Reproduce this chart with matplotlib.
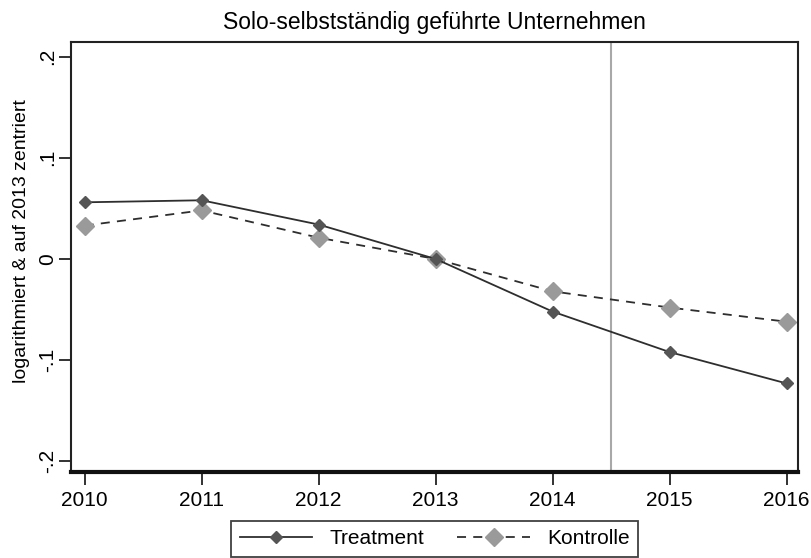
import numpy as np
import matplotlib
matplotlib.use("Agg")
import matplotlib.pyplot as plt

# Daten
jahre = [2010, 2011, 2012, 2013, 2014, 2015, 2016]
treatment = [0.056, 0.058, 0.034, 0.0, -0.052, -0.092, -0.123]
kontrolle = [0.033, 0.048, 0.021, 0.0, -0.032, -0.048, -0.062]
y_ticks = [-0.2, -0.1, 0, 0.1, 0.2]
y_labels = ["-.2", "-.1", "0", ".1", ".2"]
x_linie = 2014.5

plt.rcParams['font.family'] = ['Liberation Sans', 'DejaVu Sans']

fig = plt.figure(figsize=(8.12, 5.58), dpi=100)
ax = fig.add_axes([71/812, 1-472/558, (798-71)/812, (472-42)/558])

ax.axvline(x_linie, color='#a8a8a8', linewidth=1.5, zorder=1)
ax.plot(jahre, treatment, color='#2e2e2e', linewidth=1.3, marker='D',
        markersize=6, markerfacecolor='#555555', markeredgecolor='#555555',
        label='Treatment', zorder=3)
ax.plot(jahre, kontrolle, color='#2e2e2e', linewidth=1.3, linestyle=(0, (5, 4)),
        marker='D', markersize=9.5, markerfacecolor='#9a9a9a',
        markeredgecolor='#9a9a9a', label='Kontrolle', zorder=2)

ax.set_xlim(2009.883, 2016.097)
ax.set_ylim(-0.2105, 0.2144)
ax.set_xticks(jahre)
ax.set_xticklabels([str(j) for j in jahre], fontsize=15)
ax.set_yticks(y_ticks)
ax.set_yticklabels(y_labels, fontsize=15, rotation=90, va='center')
ax.tick_params(length=9, width=1.3, color='#222222')
ax.tick_params(axis='x', pad=5)
ax.tick_params(axis='y', pad=1)

for s in ['left', 'top', 'right']:
    ax.spines[s].set_linewidth(1.5)
    ax.spines[s].set_color('#222222')
ax.spines['bottom'].set_linewidth(3)
ax.spines['bottom'].set_color('#111111')

ax.set_ylabel('logarithmiert & auf 2013 zentriert', fontsize=14)
ax.yaxis.set_label_coords(-0.057, 0.537)
ax.set_title('Solo-selbstständig geführte Unternehmen', fontsize=16.5, pad=9)

leg = ax.legend(loc='upper center', bbox_to_anchor=(0.5, -0.114), ncol=2,
                fontsize=15, frameon=True, fancybox=False, handlelength=3.5,
                columnspacing=1.6, borderpad=0.4, handletextpad=0.8,
                borderaxespad=0)
leg.get_frame().set_edgecolor('#111111')
leg.get_frame().set_linewidth(1.3)

fig.savefig('out.png', dpi=100)
